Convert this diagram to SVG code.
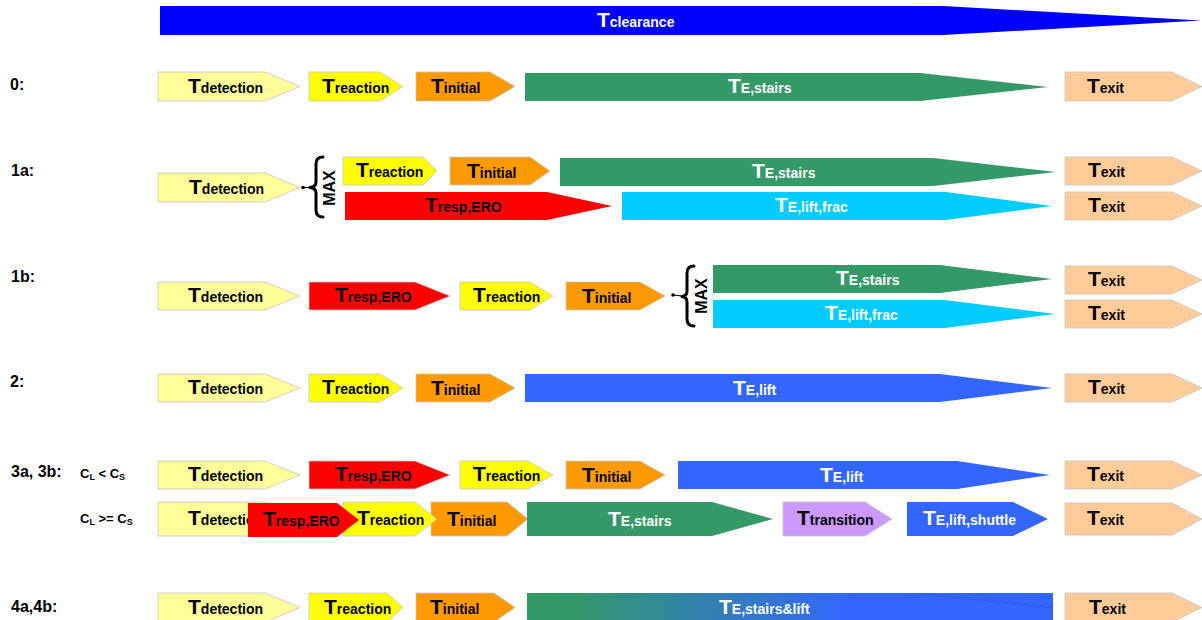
<svg xmlns="http://www.w3.org/2000/svg" width="1202" height="620" viewBox="0 0 1202 620">
  <style>
    .box{stroke:#c4c4c4;stroke-width:0.8}
    .bar{stroke:none}
    .det{fill:#ffff99}
    .rea{fill:#ffff00}
    .ini{fill:#ff9900}
    .stair{fill:#339966}
    .ero{fill:#ff0000}
    .frac{fill:#00ccff}
    .lift{fill:#3366ff}
    .exit{fill:#ffcc99}
    .trans{fill:#cc99ff}
    .clr{fill:#0000ff}
    text{font-family:"Liberation Sans",Arial,sans-serif;font-weight:bold;fill:#000}
    .w{fill:#fff}
    .T{font-size:21px}
    .s{font-size:14px}
    .row{font-size:16px}
    .cond{font-size:13px}
    .ci{font-size:9px}
    .max{font-size:16px}
    .brace{fill:none;stroke:#000;stroke-width:3;stroke-linecap:round;stroke-linejoin:round}
    .link{fill:none;stroke:#000;stroke-width:1.2}
  </style>
  <defs>
    <linearGradient id="mix" x1="0" y1="0" x2="1" y2="0">
      <stop offset="0.08" stop-color="#339966"/>
      <stop offset="0.62" stop-color="#3366ff"/>
    </linearGradient>
  </defs>

  <!-- overall clearance time -->
  <g id="clearance">
    <path class="bar clr" d="M160 6H943L1201 20.5L943 35H160Z"/>
    <text class="w" x="597" y="27"><tspan class="T">T</tspan><tspan class="s">clearance</tspan></text>
  </g>

  <!-- row labels -->
  <g id="row-labels">
    <text class="row" x="10" y="90">0:</text>
    <text class="row" x="11" y="176">1a:</text>
    <text class="row" x="11" y="282">1b:</text>
    <text class="row" x="10" y="387">2:</text>
    <text class="row" x="11" y="477">3a, 3b:</text>
    <text class="row" x="11" y="612">4a,4b:</text>
    <text class="cond" x="80" y="478">C<tspan class="ci" dy="2">L</tspan><tspan dy="-2"> &lt; C</tspan><tspan class="ci" dy="2">S</tspan></text>
    <text class="cond" x="80" y="523">C<tspan class="ci" dy="2">L</tspan><tspan dy="-2"> &gt;= C</tspan><tspan class="ci" dy="2">S</tspan></text>
  </g>

  <!-- scenario 0 -->
  <g id="s0-detection">
    <path class="box det" d="M158 72H265L300 86.5L265 101H158Z"/>
    <text x="188" y="92.5"><tspan class="T">T</tspan><tspan class="s">detection</tspan></text>
  </g>
  <g id="s0-reaction">
    <path class="box rea" d="M309 72H380L403 86.5L380 101H309Z"/>
    <text x="322" y="92.5"><tspan class="T">T</tspan><tspan class="s">reaction</tspan></text>
  </g>
  <g id="s0-initial">
    <path class="box ini" d="M416 72H490L515 86.5L490 101H416Z"/>
    <text x="431" y="93"><tspan class="T">T</tspan><tspan class="s">initial</tspan></text>
  </g>
  <g id="s0-stairs">
    <path class="bar stair" d="M525 73H920L1048 87L920 101H525Z"/>
    <text class="w" x="728" y="93"><tspan class="T">T</tspan><tspan class="s">E,stairs</tspan></text>
  </g>
  <g id="s0-exit">
    <path class="box exit" d="M1065 72H1172L1202 86.5L1172 101H1065Z"/>
    <text x="1087" y="92.5"><tspan class="T">T</tspan><tspan class="s">exit</tspan></text>
  </g>

  <!-- scenario 1a -->
  <g id="s1a-detection">
    <path class="box det" d="M158 173H265L300 187.5L265 202H158Z"/>
    <text x="189" y="193.5"><tspan class="T">T</tspan><tspan class="s">detection</tspan></text>
  </g>
  <g id="s1a-reaction">
    <path class="box rea" d="M343 157H423L437 171L423 185H343Z"/>
    <text x="356" y="177"><tspan class="T">T</tspan><tspan class="s">reaction</tspan></text>
  </g>
  <g id="s1a-initial">
    <path class="box ini" d="M450 157H530L550 171L530 185H450Z"/>
    <text x="467" y="178"><tspan class="T">T</tspan><tspan class="s">initial</tspan></text>
  </g>
  <g id="s1a-stairs">
    <path class="bar stair" d="M560 158H933L1056 172L933 186H560Z"/>
    <text class="w" x="752" y="178"><tspan class="T">T</tspan><tspan class="s">E,stairs</tspan></text>
  </g>
  <g id="s1a-exit-stairs">
    <path class="box exit" d="M1065 157H1172L1202 171L1172 185H1065Z"/>
    <text x="1088" y="177"><tspan class="T">T</tspan><tspan class="s">exit</tspan></text>
  </g>
  <g id="s1a-ero">
    <path class="bar ero" d="M345 192H547L612 206L547 220H345Z"/>
    <text x="425" y="212"><tspan class="T">T</tspan><tspan class="s">resp,ERO</tspan></text>
  </g>
  <g id="s1a-liftfrac">
    <path class="bar frac" d="M622 192H946L1052 206L946 220H622Z"/>
    <text class="w" x="775" y="212"><tspan class="T">T</tspan><tspan class="s">E,lift,frac</tspan></text>
  </g>
  <g id="s1a-exit-lift">
    <path class="box exit" d="M1065 192H1172L1202 206L1172 220H1065Z"/>
    <text x="1088" y="212"><tspan class="T">T</tspan><tspan class="s">exit</tspan></text>
  </g>

  <!-- scenario 1b -->
  <g id="s1b-detection">
    <path class="box det" d="M158 282H265L300 296L265 310H158Z"/>
    <text x="188" y="302"><tspan class="T">T</tspan><tspan class="s">detection</tspan></text>
  </g>
  <g id="s1b-ero">
    <path class="box ero" d="M309 282H415L450 296L415 310H309Z"/>
    <text x="335" y="302"><tspan class="T">T</tspan><tspan class="s">resp,ERO</tspan></text>
  </g>
  <g id="s1b-reaction">
    <path class="box rea" d="M460 282H530L553 296L530 310H460Z"/>
    <text x="473" y="302"><tspan class="T">T</tspan><tspan class="s">reaction</tspan></text>
  </g>
  <g id="s1b-initial">
    <path class="box ini" d="M566 282H640L665 296L640 310H566Z"/>
    <text x="582" y="302.5"><tspan class="T">T</tspan><tspan class="s">initial</tspan></text>
  </g>
  <g id="s1b-stairs">
    <path class="bar stair" d="M713 265H940L1052 279L940 293H713Z"/>
    <text class="w" x="836" y="285"><tspan class="T">T</tspan><tspan class="s">E,stairs</tspan></text>
  </g>
  <g id="s1b-liftfrac">
    <path class="bar frac" d="M713 300H945L1055 314L945 328H713Z"/>
    <text class="w" x="825" y="320"><tspan class="T">T</tspan><tspan class="s">E,lift,frac</tspan></text>
  </g>
  <g id="s1b-exit-stairs">
    <path class="box exit" d="M1065 266H1172L1202 280L1172 294H1065Z"/>
    <text x="1088" y="286"><tspan class="T">T</tspan><tspan class="s">exit</tspan></text>
  </g>
  <g id="s1b-exit-lift">
    <path class="box exit" d="M1065 300H1172L1202 314L1172 328H1065Z"/>
    <text x="1088" y="320"><tspan class="T">T</tspan><tspan class="s">exit</tspan></text>
  </g>

  <!-- scenario 2 -->
  <g id="s2-detection">
    <path class="box det" d="M158 374H265L300 388L265 402H158Z"/>
    <text x="188" y="394"><tspan class="T">T</tspan><tspan class="s">detection</tspan></text>
  </g>
  <g id="s2-reaction">
    <path class="box rea" d="M309 374H380L403 388L380 402H309Z"/>
    <text x="322" y="394"><tspan class="T">T</tspan><tspan class="s">reaction</tspan></text>
  </g>
  <g id="s2-initial">
    <path class="box ini" d="M416 374H490L515 388L490 402H416Z"/>
    <text x="431" y="394.5"><tspan class="T">T</tspan><tspan class="s">initial</tspan></text>
  </g>
  <g id="s2-lift">
    <path class="bar lift" d="M525 374H940L1052 388L940 402H525Z"/>
    <text class="w" x="733" y="394.5"><tspan class="T">T</tspan><tspan class="s">E,lift</tspan></text>
  </g>
  <g id="s2-exit">
    <path class="box exit" d="M1065 374H1172L1202 388L1172 402H1065Z"/>
    <text x="1088" y="394"><tspan class="T">T</tspan><tspan class="s">exit</tspan></text>
  </g>

  <!-- scenario 3a (C_L < C_S) -->
  <g id="s3a-detection">
    <path class="box det" d="M158 461H265L300 475L265 489H158Z"/>
    <text x="188" y="481"><tspan class="T">T</tspan><tspan class="s">detection</tspan></text>
  </g>
  <g id="s3a-ero">
    <path class="box ero" d="M309 461H415L450 475L415 489H309Z"/>
    <text x="335" y="481"><tspan class="T">T</tspan><tspan class="s">resp,ERO</tspan></text>
  </g>
  <g id="s3a-reaction">
    <path class="box rea" d="M460 461H528L553 475L528 489H460Z"/>
    <text x="473" y="481"><tspan class="T">T</tspan><tspan class="s">reaction</tspan></text>
  </g>
  <g id="s3a-initial">
    <path class="box ini" d="M566 461H640L665 475L640 489H566Z"/>
    <text x="582" y="481.5"><tspan class="T">T</tspan><tspan class="s">initial</tspan></text>
  </g>
  <g id="s3a-lift">
    <path class="bar lift" d="M678 461H957L1050 475L957 489H678Z"/>
    <text class="w" x="820" y="481.5"><tspan class="T">T</tspan><tspan class="s">E,lift</tspan></text>
  </g>
  <g id="s3a-exit">
    <path class="box exit" d="M1065 461H1172L1202 475L1172 489H1065Z"/>
    <text x="1087" y="481"><tspan class="T">T</tspan><tspan class="s">exit</tspan></text>
  </g>

  <!-- scenario 3b (C_L >= C_S): overlapping phases -->
  <g id="s3b-detection">
    <path class="box det" d="M158 502H265L300 519L265 536H158Z"/>
    <text x="188" y="525"><tspan class="T">T</tspan><tspan class="s">detection</tspan></text>
  </g>
  <g id="s3b-initial">
    <path class="box ini" d="M431 502H507L528 519L507 536H431Z"/>
    <text x="447" y="525.5"><tspan class="T">T</tspan><tspan class="s">initial</tspan></text>
  </g>
  <g id="s3b-reaction">
    <path class="box rea" d="M343 502H415L437 519L415 536H343Z"/>
    <text x="357" y="525"><tspan class="T">T</tspan><tspan class="s">reaction</tspan></text>
  </g>
  <g id="s3b-ero">
    <path class="bar ero" d="M248 503H337L359 520L337 537H248Z"/>
    <text x="263" y="526"><tspan class="T">T</tspan><tspan class="s">resp,ERO</tspan></text>
  </g>
  <g id="s3b-stairs">
    <path class="bar stair" d="M527 502H712L773 519L712 536H527Z"/>
    <text class="w" x="608" y="525.5"><tspan class="T">T</tspan><tspan class="s">E,stairs</tspan></text>
  </g>
  <g id="s3b-transition">
    <path class="box trans" d="M783 502H865L892 519L865 536H783Z"/>
    <text x="797" y="525"><tspan class="T">T</tspan><tspan class="s">transition</tspan></text>
  </g>
  <g id="s3b-shuttle">
    <path class="bar lift" d="M907 502H1013L1048 519L1013 536H907Z"/>
    <text class="w" x="923" y="525"><tspan class="T">T</tspan><tspan class="s">E,lift,shuttle</tspan></text>
  </g>
  <g id="s3b-exit">
    <path class="box exit" d="M1065 503H1172L1202 519L1172 535H1065Z"/>
    <text x="1087" y="525"><tspan class="T">T</tspan><tspan class="s">exit</tspan></text>
  </g>

  <!-- scenario 4a/4b -->
  <g id="s4-detection">
    <path class="box det" d="M158 593H265L300 607.5L265 622H158Z"/>
    <text x="188" y="613.5"><tspan class="T">T</tspan><tspan class="s">detection</tspan></text>
  </g>
  <g id="s4-reaction">
    <path class="box rea" d="M309 593H387L403 607.5L387 622H309Z"/>
    <text x="324" y="613.5"><tspan class="T">T</tspan><tspan class="s">reaction</tspan></text>
  </g>
  <g id="s4-initial">
    <path class="box ini" d="M416 593H494L515 607.5L494 622H416Z"/>
    <text x="430" y="614"><tspan class="T">T</tspan><tspan class="s">initial</tspan></text>
  </g>
  <g id="s4-stairs-lift">
    <rect class="bar" x="527" y="593" width="526" height="29" fill="url(#mix)"/>
    <path d="M921 593.5L1052 607.5" fill="none" stroke="#1a3fa0" stroke-opacity="0.3" stroke-width="1"/>
    <text class="w" x="719" y="614"><tspan class="T">T</tspan><tspan class="s">E,stairs&amp;lift</tspan></text>
  </g>
  <g id="s4-exit">
    <path class="box exit" d="M1065 593H1172L1202 607.5L1172 622H1065Z"/>
    <text x="1089" y="613.5"><tspan class="T">T</tspan><tspan class="s">exit</tspan></text>
  </g>

  <!-- MAX junctions joining the parallel branches -->
  <g id="connectors">
    <circle cx="303" cy="187.5" r="1.8"/>
    <path class="link" d="M303 187.5L310 187.5"/>
    <path class="brace" d="M323 157Q316 157 316 164L316 182Q316 187 310 187.5Q316 188 316 193L316 210Q316 217 323 217"/>
    <text class="max" transform="translate(335 188) rotate(-90)" text-anchor="middle">MAX</text>

    <circle cx="673" cy="295" r="1.8"/>
    <path class="link" d="M673 295L682 296"/>
    <path class="brace" d="M694 266Q687 266 687 273L687 291Q687 296 682 296.5Q687 297 687 302L687 319Q687 326 694 326"/>
    <text class="max" transform="translate(707 296) rotate(-90)" text-anchor="middle">MAX</text>
  </g>
</svg>
